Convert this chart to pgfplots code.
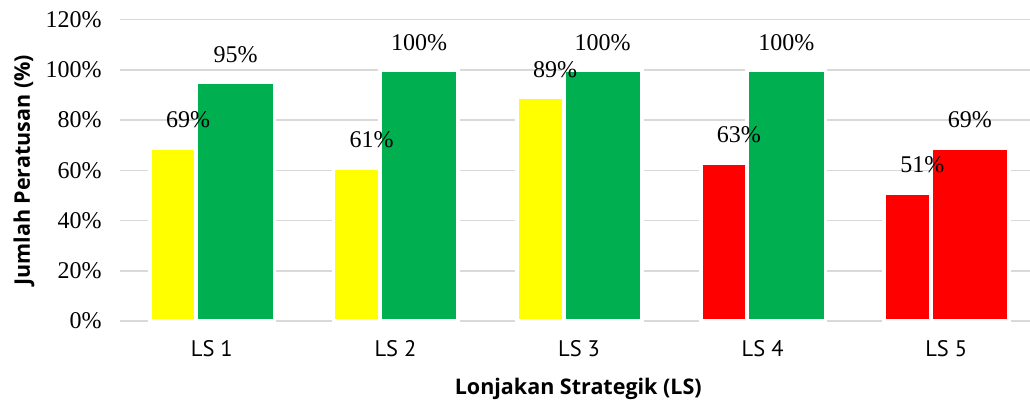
\documentclass[border=0pt]{standalone}
\usepackage{pgfplots}
\pgfplotsset{compat=1.18}
\usepackage{fontspec}
\setmainfont{Liberation Serif}
\newfontfamily\sansf{PT Sans}
\newfontfamily\titlef{Open Sans}
\definecolor{cgreen}{HTML}{00B050}
\definecolor{cyellow}{HTML}{FFFF00}
\definecolor{cred}{HTML}{FF0000}
\definecolor{cgrid}{HTML}{D9D9D9}
\begin{document}
\begin{tikzpicture}
\begin{axis}[
  at={(120pt,81pt)}, anchor=south west,
  scale only axis, width=910pt, height=301.3pt,
  xmin=-0.5, xmax=4.456, ymin=0, ymax=120,
  ybar, clip=false,
  axis line style={draw=none}, major tick length=0pt,
  ymajorgrids, grid style={cgrid, line width=1.5pt},
  ytick={0,20,...,120},
  xtick={0,1,2,3,4},
  xticklabels={LS 1,LS 2,LS 3,LS 4,LS 5},
  /pgf/number format/assume math mode=true,
  yticklabel={\pgfmathprintnumber{\tick}\%},
  yticklabel style={font=\fontsize{24}{28}\selectfont, anchor=east, inner sep=0pt, xshift=-18.3pt},
  xticklabel style={font=\sansf\fontsize{22.5}{26}\selectfont, anchor=base, inner sep=0pt, yshift=-35.3pt},
  xlabel={Lonjakan Strategik (LS)},
  ylabel={Jumlah Peratusan (\%)},
  xlabel style={font=\titlef\bfseries\fontsize{21.5}{24}\selectfont, at={(axis description cs:0.5036,-0.2423)}, anchor=base, inner sep=0pt},
  ylabel style={font=\titlef\bfseries\fontsize{21.5}{24}\selectfont, at={(axis description cs:-0.0989,0.5)}, anchor=base, inner sep=0pt},
  nodes near coords={\pgfmathprintnumber{\pgfplotspointmeta}\%},
]
% second bars
\addplot[fill=cgreen, draw=white, line width=3.7pt, bar width=78.1pt, bar shift=23.7pt,
  every node near coord/.append style={font=\fontsize{24}{28}\selectfont, text=black, anchor=center, inner sep=0pt, yshift=27.7pt}]
  coordinates {(0,95) (1,100) (2,100) (3,100)};
\addplot[fill=cred, draw=white, line width=3.7pt, bar width=78.1pt, bar shift=23.7pt,
  every node near coord/.append style={font=\fontsize{24}{28}\selectfont, text=black, anchor=center, inner sep=0pt, yshift=27.7pt}]
  coordinates {(4,69)};
% first bars
\addplot[fill=cyellow, draw=white, line width=3.7pt, bar width=46.3pt, bar shift=-38.8pt,
  every node near coord/.append style={font=\fontsize{24}{28}\selectfont, text=black, anchor=center, inner sep=0pt, xshift=15pt, yshift=28pt}]
  coordinates {(0,69) (1,61) (2,89)};
\addplot[fill=cred, draw=white, line width=3.7pt, bar width=46.3pt, bar shift=-38.8pt,
  every node near coord/.append style={font=\fontsize{24}{28}\selectfont, text=black, anchor=center, inner sep=0pt, xshift=15pt, yshift=28pt}]
  coordinates {(3,63) (4,51)};
\end{axis}
\pgfresetboundingbox
\path[use as bounding box] (0,0) rectangle (1030pt,402pt);
\end{tikzpicture}
\end{document}
